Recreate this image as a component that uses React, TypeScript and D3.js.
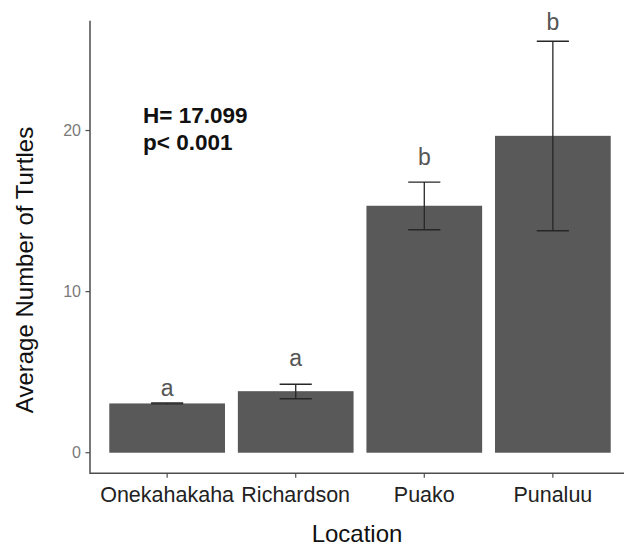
import React from "react";
import * as d3 from "d3";

const locations = ["Onekahakaha", "Richardson", "Puako", "Punaluu"];
const means = [3.06, 3.82, 15.33, 19.67];
const errLow = [3.03, 3.35, 13.84, 13.78];
const errHigh = [3.09, 4.25, 16.8, 25.54];
const letters = ["a", "a", "b", "b"];
const letterY = [3.51, 5.37, 17.83, 26.26];
const yTicks = [0, 10, 20];
const statLines = ["H= 17.099", "p< 0.001"];

const W = 624;
const H = 550;
const panel = { left: 90, right: 630, top: 20.7, bottom: 473.3 };

export default function App() {
  const x = d3
    .scaleLinear()
    .domain([0.4, locations.length + 0.6])
    .range([panel.left, panel.right]);
  const yMin = 0 - 0.05 * d3.max(errHigh)!;
  const yMax = d3.max(errHigh)! * 1.05;
  const y = d3.scaleLinear().domain([yMin, yMax]).range([panel.bottom, panel.top]);
  const bw = 0.9;
  const cw = 0.25;
  const font = "'Liberation Sans', Arial, sans-serif";

  return (
    <svg
      width={W}
      height={H}
      style={{ position: "absolute", left: 0, top: 0, background: "#fff" }}
      fontFamily={font}
    >
      {/* bars */}
      {locations.map((loc, i) => (
        <rect
          key={loc}
          x={x(i + 1 - bw / 2)}
          y={y(means[i])}
          width={x(i + 1 + bw / 2) - x(i + 1 - bw / 2)}
          height={y(0) - y(means[i])}
          fill="#595959"
        />
      ))}
      {/* error bars */}
      {locations.map((loc, i) => (
        <g key={"e" + loc} stroke="#262626" strokeWidth={1.3} fill="none">
          <line x1={x(i + 1)} x2={x(i + 1)} y1={y(errLow[i])} y2={y(errHigh[i])} />
          <line x1={x(i + 1 - cw / 2)} x2={x(i + 1 + cw / 2)} y1={y(errLow[i])} y2={y(errLow[i])} />
          <line x1={x(i + 1 - cw / 2)} x2={x(i + 1 + cw / 2)} y1={y(errHigh[i])} y2={y(errHigh[i])} />
        </g>
      ))}
      {/* letters */}
      {locations.map((loc, i) => (
        <text
          key={"l" + loc}
          x={x(i + 1)}
          y={y(letterY[i])}
          textAnchor="middle"
          fontSize={23}
          fill="#555"
        >
          {letters[i]}
        </text>
      ))}
      {/* stats */}
      {statLines.map((s, i) => (
        <text key={s} x={143} y={123 + i * 27} fontSize={22.5} fontWeight="bold" fill="#111">
          {s}
        </text>
      ))}
      {/* axes */}
      <line x1={panel.left} x2={panel.left} y1={panel.top} y2={panel.bottom + 0.75} stroke="#4d4d4d" strokeWidth={1.5} />
      <line x1={panel.left} x2={W} y1={panel.bottom} y2={panel.bottom} stroke="#4d4d4d" strokeWidth={1.5} />
      {yTicks.map((t) => (
        <g key={"yt" + t}>
          <line x1={panel.left - 4.5} x2={panel.left} y1={y(t)} y2={y(t)} stroke="#4d4d4d" strokeWidth={1.2} />
          <text x={panel.left - 9} y={y(t)} dy="0.36em" textAnchor="end" fontSize={16} fill="#7a7a7a">
            {t}
          </text>
        </g>
      ))}
      {locations.map((loc, i) => (
        <g key={"xt" + loc}>
          <line x1={x(i + 1)} x2={x(i + 1)} y1={panel.bottom} y2={panel.bottom + 4.5} stroke="#4d4d4d" strokeWidth={1.2} />
          <text x={x(i + 1)} y={501.5} textAnchor="middle" fontSize={21.5} fill="#222">
            {loc}
          </text>
        </g>
      ))}
      <text x={357} y={542} textAnchor="middle" fontSize={24} fill="#111">
        Location
      </text>
      <text
        transform={`translate(33, 270) rotate(-90)`}
        textAnchor="middle"
        fontSize={24}
        fill="#111"
      >
        Average Number of Turtles
      </text>
    </svg>
  );
}
